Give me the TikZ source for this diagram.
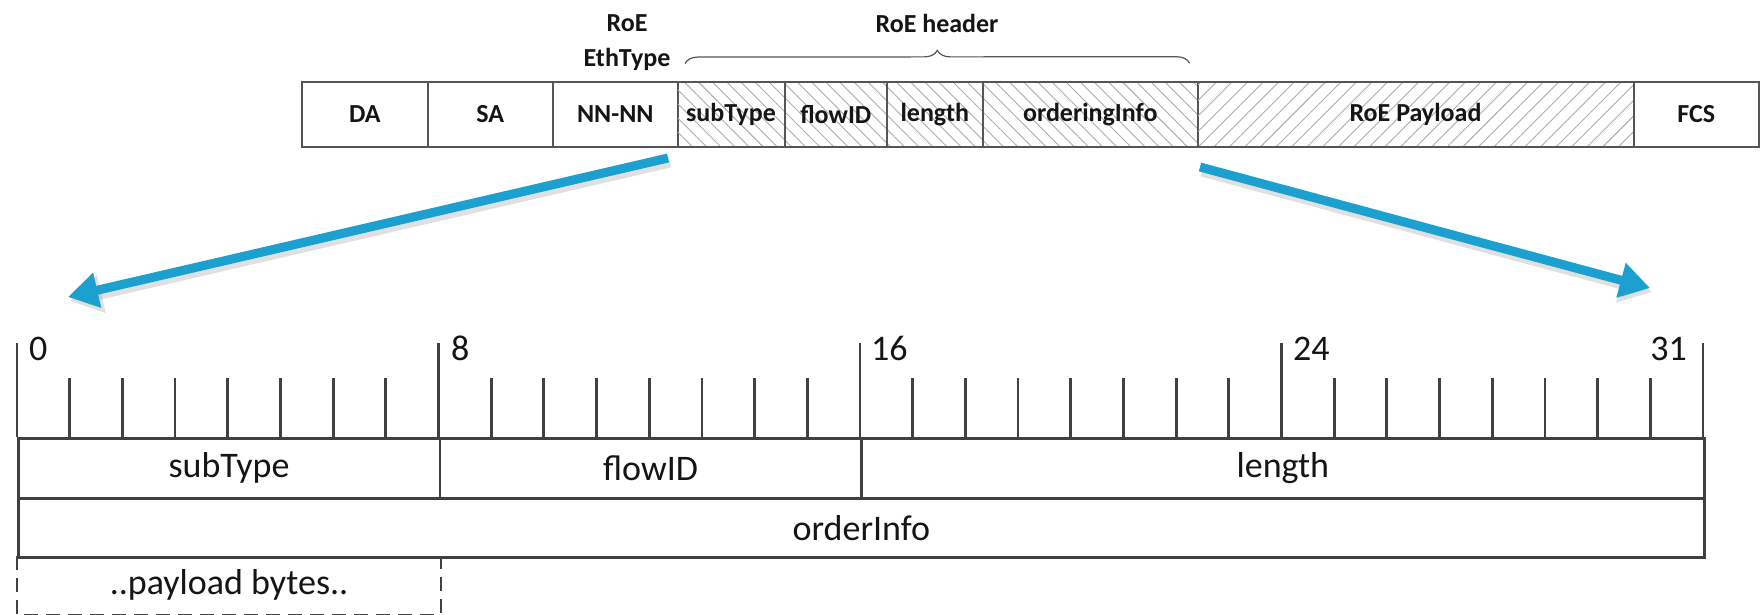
\documentclass[tikz,border=0pt]{standalone}
\usepackage{fontspec}
\setmainfont{Carlito}
\usetikzlibrary{arrows.meta,patterns.meta,decorations.pathreplacing,calc}

\definecolor{frame}{HTML}{555555}
\definecolor{rulecol}{HTML}{404040}
\definecolor{hatch}{HTML}{ABABAB}
\definecolor{ink}{HTML}{151515}
\definecolor{flow}{RGB}{28,160,208}

\begin{document}
\begin{tikzpicture}[x=1pt,y=-1pt,
  cell/.style={draw=frame, line width=1.6pt, rectangle, inner sep=0pt,
    minimum height=65pt, anchor=west, text=ink,
    font=\fontsize{26}{30}\selectfont\bfseries},
  hdrcell/.style={cell, pattern={Lines[angle=-45,distance=10pt,line width=0.9pt]},
    pattern color=hatch},
  paycell/.style={cell, pattern={Lines[angle=45,distance=11pt,line width=0.9pt]},
    pattern color=hatch},
  toplabel/.style={text=ink, inner sep=0pt, align=center,
    font=\fontsize{26}{35}\selectfont\bfseries},
  field/.style={draw=rulecol, line width=2.6pt, rectangle, inner sep=0pt,
    anchor=north west, text=ink, font=\fontsize{36}{40}\selectfont},
  bitlabel/.style={text=ink, inner sep=0pt, font=\fontsize{36}{40}\selectfont},
  tick/.style={draw=rulecol, line width=2.8pt},
  bracestyle/.style={draw=frame, line width=1.2pt, decorate,
    decoration={brace, amplitude=13pt, aspect=0.5}},
  bigarrow/.style={draw=flow, line width=9pt,
    -{Triangle[length=30pt,width=34pt]}},
  arrowshadow/.style={draw=black, opacity=0.12, line width=11pt,
    -{Triangle[length=32pt,width=37pt]}},
]
\useasboundingbox (0,0) rectangle (1760,614);

% ---- Ethernet frame ----
\node[cell, minimum width=126pt] (da) at (301,114.5) {DA};
\node[cell, minimum width=125pt] (sa) at (427,114.5) {SA};
\node[cell, minimum width=125pt] (nn) at (552,114.5) {NN-NN};
\node[hdrcell, minimum width=107pt] (st) at (677,114.5) {subType};
\node[hdrcell, minimum width=102pt] (fi) at (784,114.5) {flowID};
\node[hdrcell, minimum width=96pt]  (le) at (886,114.5) {length};
\node[hdrcell, minimum width=215pt] (oi) at (982,114.5) {orderingInfo};
\node[paycell, minimum width=436pt] (pl) at (1197,114.5) {RoE Payload};
\node[cell, minimum width=125pt] (fcs) at (1633,114.5) {FCS};

\node[toplabel] (eth) at (627,43) {RoE\\EthType};
\draw[bracestyle] ($(st.north west)+(8,-18)$) -- ($(oi.north east)+(-9,-18)$);
\node[toplabel] (hdr) at (937,23) {RoE header};

% ---- 32-bit word layout ----
\def\bw{52.6875}
\node[field, minimum width=421.5pt, minimum height=60pt] (bst) at (17,437) {subType};
\node[field, minimum width=421.5pt, minimum height=60pt] (bfi) at (438.5,437) {flowID};
\node[field, minimum width=843pt, minimum height=60pt] (ble) at (860,437) {length};
\node[field, minimum width=1686pt, minimum height=59pt] (boi) at (17,497) {orderInfo};
\node[field, draw=none, minimum width=421.5pt, minimum height=56pt] (bpl) at (17,556) {..payload bytes..};
\draw[draw=rulecol, line width=2.2pt, dash pattern=on 14pt off 8pt]
  (bpl.north west) -- (bpl.south west) -- (bpl.south east) -- (bpl.north east);

% bit ruler
\foreach \g in {0,8,16,24,32}
  \draw[tick] ({17+\g*\bw},437) -- ({17+\g*\bw},343);
\foreach \g in {0,8,16,24}
  \foreach \j in {1,...,7}
    \draw[tick] ({17+(\g+\j)*\bw},437) -- ({17+(\g+\j)*\bw},378);

\node[bitlabel, anchor=base west] (b0)  at (29,360) {0};
\node[bitlabel, anchor=base west] (b8)  at (451,360) {8};
\node[bitlabel, anchor=base west] (b16) at (871,360) {16};
\node[bitlabel, anchor=base west] (b24) at (1293,360) {24};
\node[bitlabel, anchor=base east] (b31) at (1687,360) {31};

% ---- expansion arrows ----
\coordinate (ltail) at (668,158);
\coordinate (lhead) at (68,297);
\coordinate (rtail) at (1200,167);
\coordinate (rhead) at (1650,288);
\draw[arrowshadow] ($(ltail)+(2,4)$) -- ($(lhead)+(2,4)$);
\draw[arrowshadow] ($(rtail)+(2,4)$) -- ($(rhead)+(2,4)$);
\draw[bigarrow] (ltail) -- (lhead);
\draw[bigarrow] (rtail) -- (rhead);
\end{tikzpicture}
\end{document}
